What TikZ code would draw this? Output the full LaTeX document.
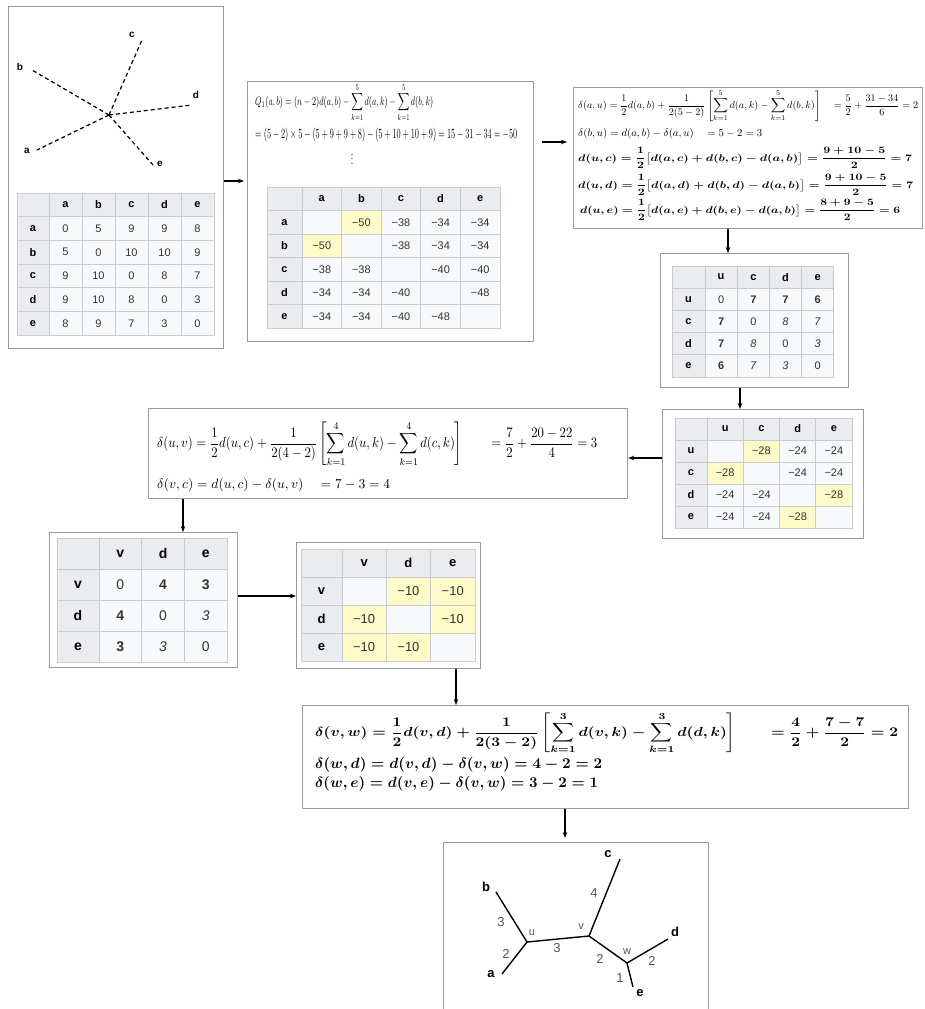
\documentclass[tikz,border=0pt]{standalone}
\usepackage{amsmath}
\usepackage{graphicx}
\usepackage{fontspec}
\setsansfont{Liberation Sans}
\usetikzlibrary{arrows.meta}
\definecolor{hdfill}{HTML}{EAECF0}
\definecolor{bdfill}{HTML}{F8F9FA}
\definecolor{hlfill}{HTML}{FFFBC8}
\definecolor{gridc}{HTML}{C8CCD1}
\definecolor{boxc}{HTML}{9A9A9A}
\definecolor{valc}{HTML}{333333}
\definecolor{numc}{HTML}{555555}
\tikzset{
  cell/.style={font=\sffamily\fontsize{11}{13}\selectfont, text=valc, inner sep=0pt},
  gridline/.style={draw=gridc, line width=0.8pt},
  box/.style={draw=boxc, line width=1.2pt, fill=white, inner sep=0pt, anchor=north west},
  arr/.style={line width=1.1pt, -{Stealth[length=6pt,width=4.5pt]}},
  formula/.style={anchor=west, inner sep=0pt, text=black},
  star/.style={line width=1.2pt, dash pattern=on 4pt off 3pt},
  slabel/.style={font=\sffamily\bfseries\fontsize{10}{12}\selectfont, inner sep=0pt},
  tleaf/.style={font=\sffamily\bfseries\fontsize{13}{15}\selectfont, inner sep=0pt},
  tinner/.style={font=\sffamily\fontsize{11}{13}\selectfont, text=numc, inner sep=0pt},
  tnum/.style={font=\sffamily\fontsize{13}{15}\selectfont, text=numc, inner sep=0pt},
  tedge/.style={line width=1.4pt}
}
\newcommand\wtab[9]{%
  \foreach \row [count=\i from 0] in {#8} {%
    \foreach \cell [count=\j from 0] in \row {%
      \pgfmathsetmacro\xa{#2+ifthenelse(\j>0,#4+(\j-1)*#5,0)}%
      \pgfmathsetmacro\xb{\xa+ifthenelse(\j>0,#5,#4)}%
      \pgfmathsetmacro\ya{#3+\i*#6}%
      \pgfmathsetmacro\yb{\ya+#6}%
      \pgfmathtruncatemacro\hd{ifthenelse(\i==0||\j==0,1,0)}%
      \gdef\ishl{0}%
      \foreach \p/\q in {#9} {\ifnum\p=\i\relax\ifnum\q=\j\relax\gdef\ishl{1}\fi\fi}%
      \ifnum\ishl=1 \fill[hlfill] (\xa,\ya) rectangle (\xb,\yb);%
      \else\ifnum\hd=1 \fill[hdfill] (\xa,\ya) rectangle (\xb,\yb);%
      \else \fill[bdfill] (\xa,\ya) rectangle (\xb,\yb);\fi\fi
      \node[cell] (#1-\i-\j) at ({(\xa+\xb)/2},{(\ya+\yb)/2}) {\ifnum\hd=1 \bfseries\color{black}\fi\cell};%
    }%
  }%
  \pgfmathsetmacro\xe{#2+#4+(#7-1)*#5}%
  \pgfmathsetmacro\ye{#3+#7*#6}%
  \pgfmathtruncatemacro\nm{#7-1}%
  \foreach \k in {1,...,\nm} {%
    \draw[gridline] ({#2+#4+(\k-1)*#5},#3) -- ({#2+#4+(\k-1)*#5},\ye);
    \draw[gridline] (#2,{#3+\k*#6}) -- (\xe,{#3+\k*#6});
  }%
  \draw[gridline] (#2,#3) rectangle (\xe,\ye);%
}
\newsavebox\fA \newsavebox\fB \newsavebox\fC \newsavebox\fD \newsavebox\fE
\newsavebox\fF \newsavebox\fG \newsavebox\fH \newsavebox\fI \newsavebox\fJ
\newsavebox\fK \newsavebox\fL \newsavebox\fM
\begin{document}
\sbox\fA{$\displaystyle Q_1(a,b)=(n-2)d(a,b)-\sum_{k=1}^{5}d(a,k)-\sum_{k=1}^{5}d(b,k)$}%
\sbox\fB{$=(5-2)\times 5-(5+9+9+8)-(5+10+10+9)=15-31-34=-50$}%
\sbox\fC{$\displaystyle \delta(a,u)=\frac{1}{2}d(a,b)+\frac{1}{2(5-2)}\left[\sum_{k=1}^{5}d(a,k)-\sum_{k=1}^{5}d(b,k)\right]\quad=\frac{5}{2}+\frac{31-34}{6}=2$}%
\sbox\fD{$\delta(b,u)=d(a,b)-\delta(a,u)\quad=5-2=3$}%
\sbox\fE{\boldmath$\displaystyle d(u,c)=\frac{1}{2}\bigl[d(a,c)+d(b,c)-d(a,b)\bigr]=\frac{9+10-5}{2}=7$}%
\sbox\fF{\boldmath$\displaystyle d(u,d)=\frac{1}{2}\bigl[d(a,d)+d(b,d)-d(a,b)\bigr]=\frac{9+10-5}{2}=7$}%
\sbox\fG{\boldmath$\displaystyle d(u,e)=\frac{1}{2}\bigl[d(a,e)+d(b,e)-d(a,b)\bigr]=\frac{8+9-5}{2}=6$}%
\sbox\fH{$\displaystyle \delta(u,v)=\frac{1}{2}d(u,c)+\frac{1}{2(4-2)}\left[\sum_{k=1}^{4}d(u,k)-\sum_{k=1}^{4}d(c,k)\right]\qquad=\frac{7}{2}+\frac{20-22}{4}=3$}%
\sbox\fI{$\delta(v,c)=d(u,c)-\delta(u,v)\quad=7-3=4$}%
\sbox\fJ{\boldmath$\displaystyle \delta(v,w)=\frac{1}{2}d(v,d)+\frac{1}{2(3-2)}\left[\sum_{k=1}^{3}d(v,k)-\sum_{k=1}^{3}d(d,k)\right]\qquad=\frac{4}{2}+\frac{7-7}{2}=2$}%
\sbox\fK{\boldmath$\delta(w,d)=d(v,d)-\delta(v,w)=4-2=2$}%
\sbox\fL{\boldmath$\delta(w,e)=d(v,e)-\delta(v,w)=3-2=1$}%
\sbox\fM{$\vdots$}%
\begin{tikzpicture}[x=1pt,y=-1pt]
\useasboundingbox (0,0) rectangle (924,1009);
\fill[white] (0,0) rectangle (924,1009);

% boxes
\node[box, minimum width=215pt, minimum height=342pt] (box1) at (8,6) {};
\node[box, minimum width=286pt, minimum height=260pt] (box2) at (247,81) {};
\node[box, minimum width=349pt, minimum height=141pt] (box3) at (573,87) {};
\node[box, minimum width=188pt, minimum height=134pt] (box4) at (660,253) {};
\node[box, minimum width=201pt, minimum height=129pt] (box5) at (662,409) {};
\node[box, minimum width=479pt, minimum height=90pt] (box6) at (148,408) {};
\node[box, minimum width=188pt, minimum height=135pt] (box7) at (49,532) {};
\node[box, minimum width=184pt, minimum height=126pt] (box8) at (296,542) {};
\node[box, minimum width=606pt, minimum height=103pt] (box9) at (302,705) {};
\node[box, minimum width=265pt, minimum height=175pt] (box10) at (443,842) {};

% star tree in box 1
\coordinate (sc) at (109,115);
\coordinate (sa) at (37,150);
\coordinate (sb) at (32,70);
\coordinate (scc) at (142,40);
\coordinate (sd) at (192,105);
\coordinate (se) at (153,165);
\foreach \e in {sa,sb,scc,sd,se} \draw[star] (sc) -- (\e);
\node[slabel] (la) at (27,151) {a};
\node[slabel] (lb) at (20,67) {b};
\node[slabel] (lc) at (132,35) {c};
\node[slabel] (ld) at (196,95) {d};
\node[slabel] (le) at (160,164) {e};

% table 1
\wtab{ta}{17}{193}{32}{33}{23.7}{6}{{{},a,b,c,d,e},{a,0,5,9,9,8},{b,5,0,10,10,9},{c,9,10,0,8,7},{d,9,10,8,0,3},{e,8,9,7,3,0}}{99/99}

% box 2
\node[formula] (f21) at (255,102.5) {\resizebox*{178pt}{38pt}{\usebox\fA}};
\node[formula] (f22) at (255,135) {\resizebox*{262pt}{14pt}{\usebox\fB}};
\node[inner sep=0pt] (f23) at (352,156) {\resizebox{!}{16pt}{\usebox\fM}};
\wtab{tb}{267}{187}{35}{39.6}{23.5}{6}{{{},a,b,c,d,e},{a,{},−50,−38,−34,−34},{b,−50,{},−38,−34,−34},{c,−38,−38,{},−40,−40},{d,−34,−34,−40,{},−48},{e,−34,−34,−40,−48,{}}}{1/2,2/1}

% box 3
\node[formula] (f31) at (578,106) {\resizebox{340pt}{!}{\usebox\fC}};
\node[formula] (f32) at (578,134) {\resizebox{184pt}{!}{\usebox\fD}};
\node[formula] (f33) at (578,158) {\resizebox*{334pt}{21pt}{\usebox\fE}};
\node[formula] (f34) at (578,185) {\resizebox*{335pt}{21pt}{\usebox\fF}};
\node[formula] (f35) at (580,210) {\resizebox*{320pt}{21pt}{\usebox\fG}};

% table in box 4
\wtab{tc}{672}{266}{33}{32.2}{22.2}{5}{{{},u,c,d,e},{u,0,\textbf{7},\textbf{7},\textbf{6}},{c,\textbf{7},0,\textit{8},\textit{7}},{d,\textbf{7},\textit{8},0,\textit{3}},{e,\textbf{6},\textit{7},\textit{3},0}}{99/99}

% table in box 5
\wtab{td}{675}{418}{32}{36.25}{22}{5}{{{},u,c,d,e},{u,{},−28,−24,−24},{c,−28,{},−24,−24},{d,−24,−24,{},−28},{e,−24,−24,−28,{}}}{1/2,2/1,3/4,4/3}

% box 6
\node[formula] (f61) at (157,444) {\resizebox*{440pt}{45pt}{\usebox\fH}};
\node[formula] (f62) at (157,485) {\resizebox{233pt}{!}{\usebox\fI}};

% table in box 7
\begin{scope}[cell/.append style={font=\sffamily\fontsize{14}{16}\selectfont}]
\wtab{te}{57}{538}{42}{42.7}{31}{4}{{{},v,d,e},{v,0,\textbf{4},\textbf{3}},{d,\textbf{4},0,\textit{3}},{e,\textbf{3},\textit{3},0}}{99/99}
\end{scope}

% table in box 8
\begin{scope}[cell/.append style={font=\sffamily\fontsize{13}{15}\selectfont}]
\wtab{tf}{301}{549}{41}{44.3}{28}{4}{{{},v,d,e},{v,{},−10,−10},{d,−10,{},−10},{e,−10,−10,{}}}{1/2,1/3,2/1,2/3,3/1,3/2}
\end{scope}

% box 9
\node[formula] (f91) at (315,733) {\resizebox*{583pt}{41pt}{\usebox\fJ}};
\node[formula] (f92) at (315,765) {\resizebox{287pt}{!}{\usebox\fK}};
\node[formula] (f93) at (315,784) {\resizebox{283pt}{!}{\usebox\fL}};

% final tree in box 10
\coordinate (u) at (527,942);
\coordinate (v) at (589,936);
\coordinate (w) at (627,963);
\coordinate (ea) at (502,974);
\coordinate (eb) at (496,892);
\coordinate (ec) at (620,859);
\coordinate (ed) at (668,939);
\coordinate (ee) at (633,987);
\draw[tedge] (eb) -- (u) -- (ea);
\draw[tedge] (u) -- (v) -- (ec);
\draw[tedge] (v) -- (w) -- (ed);
\draw[tedge] (w) -- (ee);
\node[tleaf] (ta1) at (491,974) {a};
\node[tleaf] (tb1) at (486,887) {b};
\node[tleaf] (tc1) at (608,854) {c};
\node[tleaf] (td1) at (675,932) {d};
\node[tleaf] (te1) at (640,993) {e};
\node[tinner] (tu) at (532,933) {u};
\node[tinner] (tv) at (581,927) {v};
\node[tinner] (tw) at (627,952) {w};
\node[tnum] (n1) at (501,922) {3};
\node[tnum] (n2) at (506,954) {2};
\node[tnum] (n3) at (557,948) {3};
\node[tnum] (n4) at (594,893) {4};
\node[tnum] (n5) at (600,959) {2};
\node[tnum] (n6) at (652,961) {2};
\node[tnum] (n7) at (620,978) {1};

% connectors
\coordinate (r1) at (0,181);
\coordinate (r2) at (0,142);
\coordinate (c3) at (728,0);
\coordinate (c4) at (740,0);
\coordinate (r5) at (0,458);
\coordinate (c6) at (183,0);
\coordinate (r7) at (0,596);
\coordinate (c8) at (456,0);
\coordinate (c9) at (565,0);
\draw[arr, shorten >=3pt] (box1.east |- r1) -- (box2.west |- r1);
\draw[arr, shorten <=8pt, shorten >=6pt] (box2.east |- r2) -- (box3.west |- r2);
\draw[arr] (box3.south -| c3) -- (box4.north -| c3);
\draw[arr] (box4.south -| c4) -- (box5.north -| c4);
\draw[arr] (box5.west |- r5) -- (box6.east |- r5);
\draw[arr] (box6.south -| c6) -- (box7.north -| c6);
\draw[arr] (box7.east |- r7) -- (box8.west |- r7);
\draw[arr] (box8.south -| c8) -- (box9.north -| c8);
\draw[arr, shorten >=4pt] (box9.south -| c9) -- (box10.north -| c9);
\end{tikzpicture}
\end{document}
